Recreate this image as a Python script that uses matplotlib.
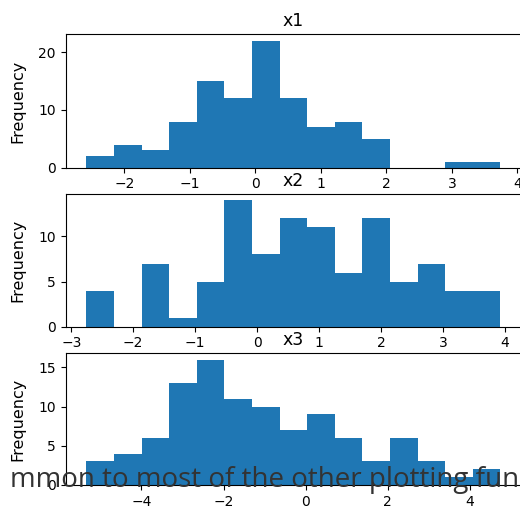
import matplotlib
matplotlib.use('Agg')
import matplotlib.pyplot as plt
import numpy as np

# histogram counts (15 bins each)
x1_counts = [2, 4, 3, 8, 15, 12, 22, 12, 7, 8, 5, 0, 0, 1, 1]
x1_range = (-2.58, 3.74)

x2_counts = [4, 0, 7, 1, 5, 14, 8, 12, 11, 6, 12, 5, 7, 4, 4]
x2_range = (-2.755, 3.927)

x3_counts = [3, 4, 6, 13, 16, 11, 10, 7, 9, 6, 3, 6, 3, 1, 2]
x3_range = (-5.34, 4.74)

titles = ['x1', 'x2', 'x3']
page_text = 'mmon to most of the other plotting fun'

W, H = 520, 509
fig = plt.figure(figsize=(W / 100, H / 100), dpi=100)

# axes boxes in pixels: (left, top, right, bottom)
boxes = [(65.7, 34.3, 521, 167.7),
         (65.7, 194.0, 521, 326.7),
         (65.7, 353.3, 521, 485.0)]

data = [(x1_counts, x1_range), (x2_counts, x2_range), (x3_counts, x3_range)]

for (counts, rng), title, (l, t, r, b) in zip(data, titles, boxes):
    ax = fig.add_axes([l / W, 1 - b / H, (r - l) / W, (b - t) / H])
    edges = np.linspace(rng[0], rng[1], len(counts) + 1)
    ax.bar(edges[:-1], counts, width=np.diff(edges), align='edge', color='#1f77b4')
    ax.set_title(title, fontsize=12.5)
    ax.set_ylabel('Frequency', fontsize=11.5, labelpad=9)
    ax.tick_params(labelsize=10)

# page text from the surrounding web page, drawn over the chart
fig.text(10 / W, 1 - 486.5 / H, page_text, fontsize=20, color='#333333',
         family='Open Sans', ha='left', va='baseline')

fig.savefig('out.png', dpi=100)
